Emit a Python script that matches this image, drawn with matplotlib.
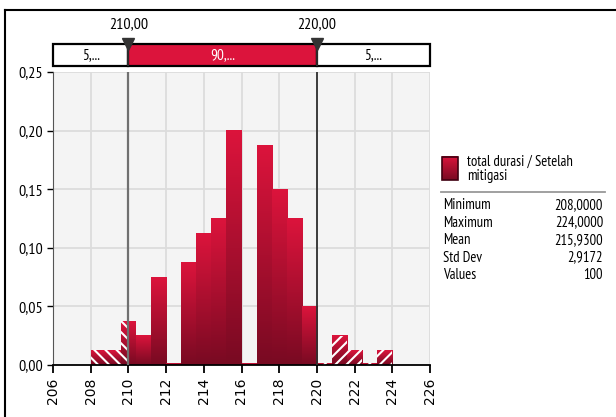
import numpy as np
import matplotlib
matplotlib.use("Agg")
import matplotlib.pyplot as plt
from matplotlib.lines import Line2D
from matplotlib.patches import Rectangle
from matplotlib.colors import LinearSegmentedColormap
from matplotlib import font_manager as fm

# ---- data ----
bin_left = [208.0, 208.8, 209.6, 210.4, 211.2, 212.0, 212.8, 213.6, 214.4, 215.2,
            216.0, 216.8, 217.6, 218.4, 219.2, 220.0, 220.8, 221.6, 222.4, 223.2]
bin_width = 0.8
density = [0.0125, 0.0125, 0.0375, 0.025, 0.075, 0.0, 0.0875, 0.1125, 0.125, 0.2,
           0.0, 0.1875, 0.15, 0.125, 0.05, 0.0, 0.025, 0.0125, 0.0, 0.0125]
lower_mark, upper_mark = 210.0, 220.0
band_labels = ["5,...", "90,...", "5,..."]
xticks = list(range(206, 227, 2))
yticks = [0.0, 0.05, 0.10, 0.15, 0.20, 0.25]
ytick_labels = ["0,00", "0,05", "0,10", "0,15", "0,20", "0,25"]
series_name = "total durasi / Setelah\nmitigasi"
stat_names = ["Minimum", "Maximum", "Mean", "Std Dev", "Values"]
stat_values = ["208,0000", "224,0000", "215,9300", "2,9172", "100"]

CRIMSON = "#dc143c"
DARK = "#780a22"

names = {f.name for f in fm.fontManager.ttflist}
NARROW = "PT Sans Narrow" if "PT Sans Narrow" in names else "DejaVu Sans"

def fp(size):
    return fm.FontProperties(family=NARROW, size=size)

W, H = 616, 417
fig = plt.figure(figsize=(W / 100, H / 100), dpi=100)

def fx(px):
    return px / W

def fy(py):
    return 1 - py / H

# outer frame
fig.add_artist(Line2D([fx(5), 1], [fy(10), fy(10)], color="black", lw=1.5, transform=fig.transFigure))
fig.add_artist(Line2D([fx(5), fx(5)], [fy(10), 0], color="black", lw=1.5, transform=fig.transFigure))

ax = fig.add_axes([fx(53), fy(365), fx(430) - fx(53), fy(72) - fy(365)])
ax.set_facecolor("#f4f4f4")
ax.set_xlim(206, 226)
ax.set_ylim(0, 0.25)
for x in xticks:
    ax.axvline(x, color="#dcdcdc", lw=1.3, zorder=0)
for y in yticks:
    ax.axhline(y, color="#dcdcdc", lw=1.3, zorder=0)

grad = np.linspace(0, 1, 256).reshape(-1, 1)
cmap = LinearSegmentedColormap.from_list("g", [DARK, CRIMSON])

def solid(x0, x1, h):
    ax.imshow(grad, extent=[x0, x1, 0, h], aspect="auto", cmap=cmap, vmin=0, vmax=1,
              origin="lower", zorder=2, interpolation="bilinear")

def hatched(x0, x1, h, hatch):
    solid(x0, x1, h)
    ax.add_patch(Rectangle((x0, 0), x1 - x0, h, facecolor="none", edgecolor="white",
                           hatch=hatch, lw=0, zorder=2.5))

plt.rcParams["hatch.linewidth"] = 1.5
for xl, d in zip(bin_left, density):
    xr = xl + bin_width
    h = d if d > 0 else 0.0015
    if xr <= lower_mark + 1e-9:
        hatched(xl, xr, h, "\\\\\\")
    elif xl >= upper_mark - 1e-9:
        hatched(xl, xr, h, "///")
    elif xl < lower_mark < xr:
        hatched(xl, lower_mark, h, "\\\\\\")
        solid(lower_mark, xr, h)
    else:
        solid(xl, xr, h)

ax.axvline(lower_mark, color="#707070", lw=1.6, zorder=3)
ax.axvline(upper_mark, color="#303030", lw=1.3, zorder=3)

for s in ["top", "right"]:
    ax.spines[s].set_visible(False)
ax.spines["left"].set_color("#555555")
ax.spines["bottom"].set_color("black")
ax.spines["bottom"].set_linewidth(1.3)
ax.set_xticks(xticks)
ax.set_xticklabels([str(x) for x in xticks], rotation=90, fontsize=10, family="DejaVu Sans")
ax.set_yticks(yticks)
ax.set_yticklabels(ytick_labels, fontproperties=fp(11.5))
ax.tick_params(axis="x", length=6, width=1.3, pad=3)
ax.tick_params(axis="y", length=4, width=1, pad=3)

# top band
bax = fig.add_axes([fx(53), fy(66), fx(430) - fx(53), fy(44) - fy(66)])
bax.set_xlim(206, 226)
bax.set_ylim(0, 1)
bax.axis("off")
segments = [(206, lower_mark), (lower_mark, upper_mark), (upper_mark, 226)]
for (a, b), lab in zip(segments, band_labels):
    mid = lab == band_labels[1]
    bax.add_patch(Rectangle((a, 0), b - a, 1, facecolor=CRIMSON if mid else "white",
                            edgecolor="black", lw=1.6, clip_on=False))
    bax.text((a + b) / 2, 0.5, lab, ha="center", va="center", fontproperties=fp(11),
             color="white" if mid else "black")
for m in [lower_mark, upper_mark]:
    bax.plot([m], [1.0], marker="v", markersize=9, color="#333333", clip_on=False, zorder=5)
    bax.plot([m, m], [0, 1], color="#333333", lw=1.2, zorder=4)
    bax.text(m, 1.6, f"{m:.2f}".replace(".", ","), ha="center", va="bottom", fontproperties=fp(11.5))

# legend / stats panel
lax = fig.add_axes([0, 0, 1, 1], facecolor="none")
lax.set_xlim(0, W)
lax.set_ylim(H, 0)
lax.axis("off")
lax.imshow(grad[::-1], extent=[442, 458, 180, 157], cmap=cmap, vmin=0, vmax=1,
           aspect="auto", zorder=3)
lax.add_patch(Rectangle((442, 157), 16, 23, facecolor="none", edgecolor="#400010", lw=1.2, zorder=4))
lax.text(467, 169, series_name, ha="left", va="center", fontproperties=fp(10.5), linespacing=1.05)
lax.plot([441, 605], [192, 192], color="#999999", lw=1.3)
for i, (n, v) in enumerate(zip(stat_names, stat_values)):
    yy = 205 + i * 17.5
    lax.text(443, yy, n, ha="left", va="center", fontproperties=fp(10.5))
    lax.text(603, yy, v, ha="right", va="center", fontproperties=fp(10.5))

fig.savefig("out.png", dpi=100)
